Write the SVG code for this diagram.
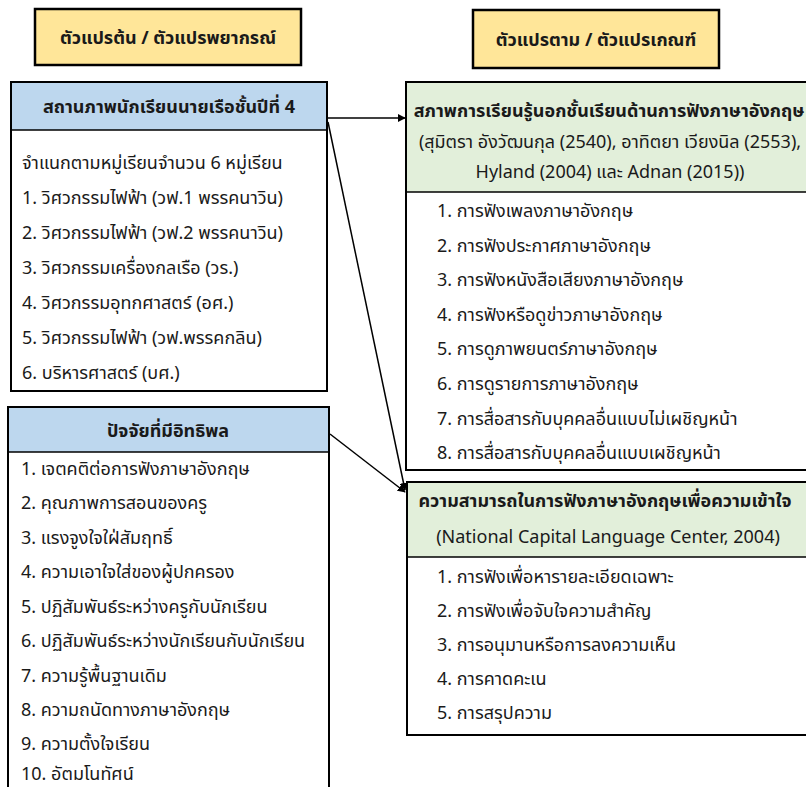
<svg xmlns="http://www.w3.org/2000/svg" width="806" height="787" viewBox="0 0 806 787">
<defs>
<style>
text{font-family:'Noto Sans Thai','Noto Sans','DejaVu Sans',sans-serif;fill:#1a1a1a;font-size:18px}
.b{font-weight:bold}
.c{text-anchor:middle}
.box{stroke:#000;stroke-width:2;fill:#fff}
.yel{fill:#FFE699;stroke:#000;stroke-width:2.5}
.blue{fill:#BDD7EE}
.green{fill:#E2EFDA}
.div{stroke:#000;stroke-width:1.5}
.con{stroke:#000;stroke-width:1.5;fill:none;marker-end:url(#ah)}
</style>
<marker id="ah" viewBox="0 0 10 10" refX="9" refY="5" markerWidth="8" markerHeight="8" orient="auto" markerUnits="userSpaceOnUse">
<path d="M0,0 L10,5 L0,10 z" fill="#000"/>
</marker>
</defs>
<rect width="806" height="787" fill="#fff"/>

<g id="title-left">
<rect class="yel" x="35" y="9" width="266" height="56"/>
<text class="b c" x="168" y="44" font-size="19">ตัวแปรต้น / ตัวแปรพยากรณ์</text>
</g>
<g id="title-right">
<rect class="yel" x="473" y="10" width="246" height="58"/>
<text class="b c" x="596" y="46" font-size="19">ตัวแปรตาม / ตัวแปรเกณฑ์</text>
</g>

<g id="status">
<rect class="box" x="11" y="82" width="316" height="309"/>
<rect class="blue" x="12" y="83" width="314" height="47"/>
<line class="div" x1="11" y1="130" x2="327" y2="130"/>
<text class="b c" x="169" y="113">สถานภาพนักเรียนนายเรือชั้นปีที่ 4</text>
<text x="22" y="169">จำแนกตามหมู่เรียนจำนวน 6 หมู่เรียน</text>
<text x="22" y="204">1. วิศวกรรมไฟฟ้า (วฟ.1 พรรคนาวิน)</text>
<text x="22" y="239">2. วิศวกรรมไฟฟ้า (วฟ.2 พรรคนาวิน)</text>
<text x="22" y="274">3. วิศวกรรมเครื่องกลเรือ (วร.)</text>
<text x="22" y="309">4. วิศวกรรมอุทกศาสตร์ (อศ.)</text>
<text x="22" y="344">5. วิศวกรรมไฟฟ้า (วฟ.พรรคกลิน)</text>
<text x="22" y="379">6. บริหารศาสตร์ (บศ.)</text>
</g>

<g id="factors">
<rect class="box" x="8" y="407" width="321" height="400"/>
<rect class="blue" x="9" y="408" width="319" height="44"/>
<line class="div" x1="8" y1="452" x2="329" y2="452"/>
<text class="b c" x="168" y="437">ปัจจัยที่มีอิทธิพล</text>
<text x="21" y="475">1. เจตคติต่อการฟังภาษาอังกฤษ</text>
<text x="21" y="509">2. คุณภาพการสอนของครู</text>
<text x="21" y="543.5">3. แรงจูงใจใฝ่สัมฤทธิ์</text>
<text x="21" y="578">4. ความเอาใจใส่ของผู้ปกครอง</text>
<text x="21" y="612.5">5. ปฏิสัมพันธ์ระหว่างครูกับนักเรียน</text>
<text x="21" y="647">6. ปฏิสัมพันธ์ระหว่างนักเรียนกับนักเรียน</text>
<text x="21" y="681.5">7. ความรู้พื้นฐานเดิม</text>
<text x="21" y="716">8. ความถนัดทางภาษาอังกฤษ</text>
<text x="21" y="750">9. ความตั้งใจเรียน</text>
<text x="21" y="780">10. อัตมโนทัศน์</text>
</g>

<g id="outside-learning">
<rect class="box" x="406" y="82" width="420" height="388"/>
<rect class="green" x="407" y="83" width="418" height="109"/>
<line class="div" x1="406" y1="192" x2="826" y2="192"/>
<text class="b c" x="609" y="117" font-size="16.5">สภาพการเรียนรู้นอกชั้นเรียนด้านการฟังภาษาอังกฤษ</text>
<text class="c" x="610" y="148" font-size="16.8">(สุมิตรา อังวัฒนกุล (2540), อาทิตยา เวียงนิล (2553),</text>
<text class="c" x="610" y="178" font-size="17.3">Hyland (2004) และ Adnan (2015))</text>
<text x="437" y="217">1. การฟังเพลงภาษาอังกฤษ</text>
<text x="437" y="252">2. การฟังประกาศภาษาอังกฤษ</text>
<text x="437" y="286">3. การฟังหนังสือเสียงภาษาอังกฤษ</text>
<text x="437" y="321">4. การฟังหรือดูข่าวภาษาอังกฤษ</text>
<text x="437" y="355">5. การดูภาพยนตร์ภาษาอังกฤษ</text>
<text x="437" y="390">6. การดูรายการภาษาอังกฤษ</text>
<text x="437" y="425">7. การสื่อสารกับบุคคลอื่นแบบไม่เผชิญหน้า</text>
<text x="437" y="459">8. การสื่อสารกับบุคคลอื่นแบบเผชิญหน้า</text>
</g>

<g id="listening-ability">
<rect class="box" x="407" y="482" width="420" height="253"/>
<rect class="green" x="408" y="483" width="418" height="74"/>
<line class="div" x1="407" y1="557" x2="827" y2="557"/>
<text class="b c" x="605" y="507" font-size="19">ความสามารถในการฟังภาษาอังกฤษเพื่อความเข้าใจ</text>
<text class="c" x="608" y="543" font-size="15.5">(National Capital Language Center, 2004)</text>
<text x="437" y="583">1. การฟังเพื่อหารายละเอียดเฉพาะ</text>
<text x="437" y="617">2. การฟังเพื่อจับใจความสำคัญ</text>
<text x="437" y="651">3. การอนุมานหรือการลงความเห็น</text>
<text x="437" y="685">4. การคาดคะเน</text>
<text x="437" y="719">5. การสรุปความ</text>
</g>

<g id="connectors">
<line class="con" x1="328" y1="118" x2="405" y2="118"/>
<line class="con" x1="328" y1="122" x2="405" y2="490"/>
<line class="con" x1="330" y1="434" x2="405" y2="492"/>
</g>
</svg>
